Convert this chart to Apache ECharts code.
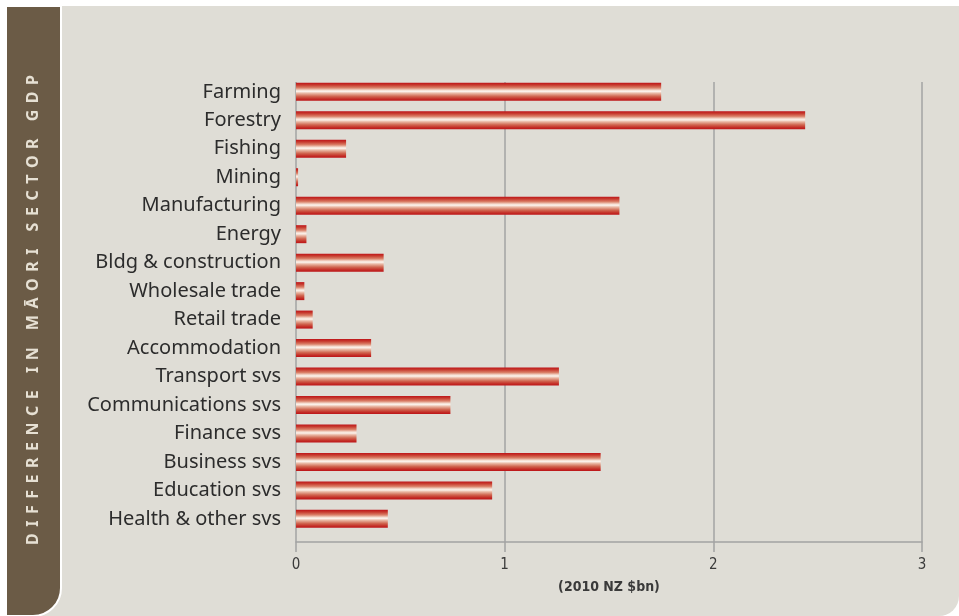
<!DOCTYPE html>
<html>
<head>
<meta charset="utf-8">
<script src="https://cdn.jsdelivr.net/npm/echarts@6/dist/echarts.min.js"></script>
<style>
  html, body { margin: 0; padding: 0; background: #ffffff; }
  #chart { width: 959px; height: 616px; }
</style>
</head>
<body>
<div id="chart"></div>
<script>
// Sectors, top to bottom
const sectors = [
  'Farming', 'Forestry', 'Fishing', 'Mining', 'Manufacturing', 'Energy',
  'Bldg & construction', 'Wholesale trade', 'Retail trade', 'Accommodation',
  'Transport svs', 'Communications svs', 'Finance svs', 'Business svs',
  'Education svs', 'Health & other svs'
];
// Difference in Māori sector GDP (2010 NZ $bn)
const gdpDifference = [
  1.75, 2.44, 0.24, 0.01, 1.55, 0.05,
  0.42, 0.04, 0.08, 0.36,
  1.26, 0.74, 0.29, 1.46,
  0.94, 0.44
];
const xTicks = [0, 1, 2, 3];
const sideTitle = 'DIFFERENCE IN MĀORI SECTOR GDP';
const axisTitle = '(2010 NZ $bn)';

// Letter-spaced vertical title: one text element per glyph, reading upward.
function spacedVerticalTitle(text, cx, yStart, span, font) {
  const ctx = document.createElement('canvas').getContext('2d');
  ctx.font = font;
  const chars = text.split('');
  const widths = chars.map(c => ctx.measureText(c).width);
  const total = widths.reduce((a, b) => a + b, 0);
  const gap = (span - total) / (chars.length - 1);
  const items = [];
  let y = yStart;
  chars.forEach((c, i) => {
    if (c !== ' ') {
      items.push({
        type: 'text', z: 5, x: cx, y: y, rotation: Math.PI / 2,
        style: { text: c, fill: '#e6e0d3', font: font, align: 'left', verticalAlign: 'middle' }
      });
    }
    y -= widths[i] + gap;
  });
  return items;
}

const chart = echarts.init(document.getElementById('chart'), null, { renderer: 'canvas' });

const barGradient = new echarts.graphic.LinearGradient(0, 0, 0, 1, [
  { offset: 0.00, color: '#be1419' },
  { offset: 0.12, color: '#c73a2e' },
  { offset: 0.28, color: '#da8068' },
  { offset: 0.42, color: '#f6e2d6' },
  { offset: 0.48, color: '#fbf1ea' },
  { offset: 0.58, color: '#e9b7a3' },
  { offset: 0.75, color: '#d06650' },
  { offset: 0.90, color: '#c42d26' },
  { offset: 1.00, color: '#bc1418' }
]);

const axisFont = '"DejaVu Sans Condensed", "Liberation Sans Narrow", "Roboto", sans-serif';

const option = {
  backgroundColor: '#ffffff',
  animation: false,
  graphic: [
    {
      type: 'rect', z: -10,
      shape: { x: 6, y: 6, width: 953, height: 610, r: [0, 0, 20, 0] },
      style: { fill: '#dfddd6' }
    },
    {
      type: 'rect', z: -9,
      shape: { x: 6, y: 6, width: 55, height: 610, r: [0, 0, 28, 0] },
      style: { fill: '#6b5b46', stroke: '#ffffff', lineWidth: 2 }
    }
  ].concat(spacedVerticalTitle(sideTitle, 33, 545, 470, 'bold 16px "Noto Sans", sans-serif')),
  grid: [
    { left: 296, right: 37, top: 77.6, height: 455.5, containLabel: false },
    { left: 296, right: 37, top: 82, height: 460, containLabel: false }
  ],
  xAxis: [
    {
      gridIndex: 0, type: 'value', min: 0, max: 3, interval: 1,
      show: false
    },
    {
      gridIndex: 1, type: 'value', min: xTicks[0], max: xTicks[xTicks.length - 1], interval: 1,
      axisLine: { show: true, lineStyle: { color: '#a3a3a3', width: 1.5 } },
      axisTick: { show: true, length: 10, lineStyle: { color: '#a3a3a3', width: 1.5 } },
      splitLine: { show: true, lineStyle: { color: '#a3a3a3', width: 1.5 } },
      axisLabel: {
        margin: 16, color: '#3a3a3a', fontSize: 15,
        fontFamily: axisFont
      },
      name: axisTitle, nameLocation: 'middle', nameGap: 38,
      nameTextStyle: {
        color: '#3a3a3a', fontSize: 14, fontWeight: 'bold',
        fontFamily: axisFont
      }
    }
  ],
  yAxis: [
    {
      gridIndex: 0, type: 'category', data: sectors, inverse: true,
      axisLine: { show: false }, axisTick: { show: false },
      splitLine: { show: false },
      axisLabel: {
        margin: 15, color: '#2c2c2c', fontSize: 20,
        fontFamily: '"Noto Sans", sans-serif'
      }
    },
    {
      gridIndex: 1, type: 'category', data: sectors, inverse: true, show: false
    }
  ],
  series: [
    {
      type: 'bar', xAxisIndex: 0, yAxisIndex: 0,
      data: gdpDifference, barWidth: 18,
      itemStyle: { color: barGradient }
    },
    {
      type: 'bar', xAxisIndex: 1, yAxisIndex: 1, data: [], silent: true
    }
  ]
};

chart.setOption(option);
</script>
</body>
</html>
